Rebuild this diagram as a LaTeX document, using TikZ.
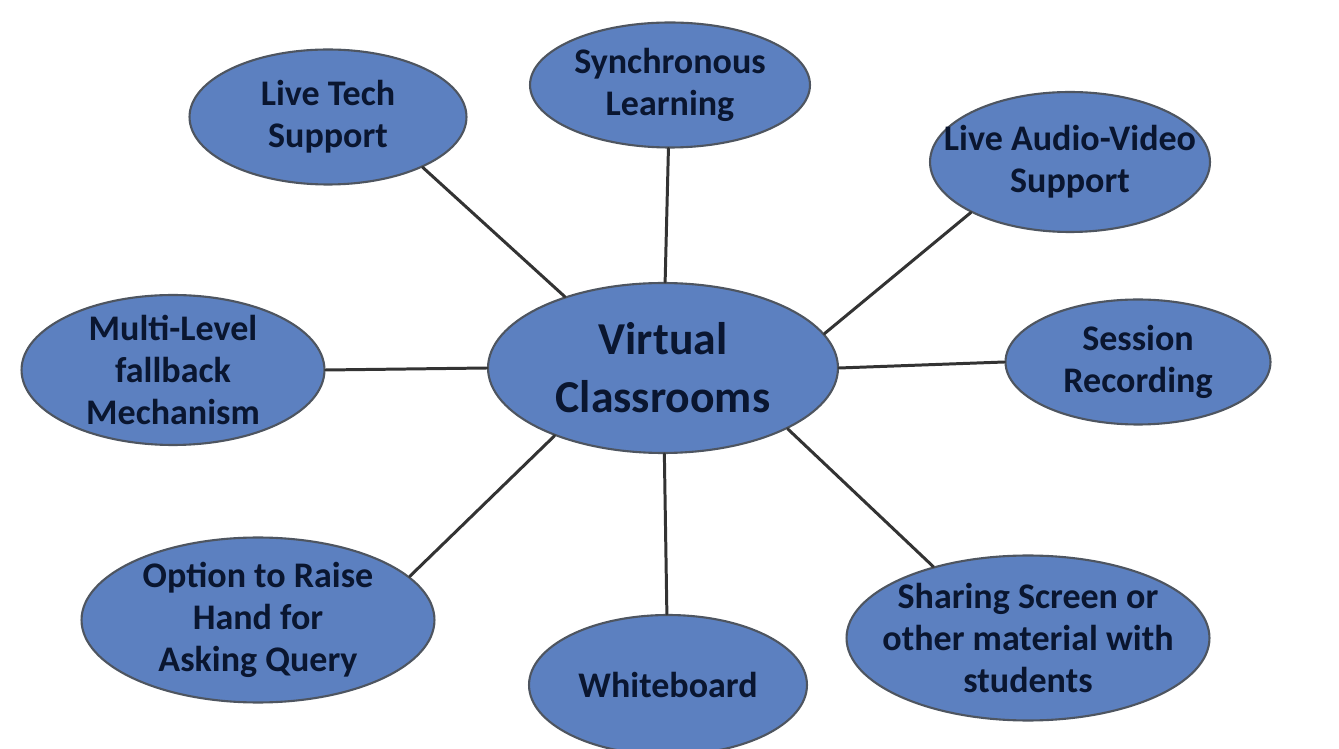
\documentclass[tikz,border=0pt]{standalone}
\usepackage{fontspec}
\setmainfont{Carlito}
\usetikzlibrary{shapes.geometric}
\definecolor{bubble}{HTML}{5C80C0}
\definecolor{rim}{HTML}{4E5560}
\definecolor{ink}{HTML}{0A1630}
\begin{document}
\begin{tikzpicture}[x=0.02cm, y=-0.02cm, line join=round, line cap=round,
	topic/.style={ellipse, draw=rim, line width=1.2pt, fill=bubble, text=ink, inner sep=-30pt,
		align=center, font=\bfseries\fontsize{20.5}{24}\selectfont},
	hub/.style={topic, font=\bfseries\fontsize{26}{33}\selectfont},
	link/.style={draw=black!80, line width=1.7pt}]
	\useasboundingbox (0,0) rectangle (1339,749);
	\fill[white] (0,0) rectangle (1339,749);
	% hub and topics
	\node[hub, minimum width=7cm, minimum height=3.4cm] (vc) at (663,368) {Virtual\\Classrooms};
	\node[topic, minimum width=5.54cm, minimum height=2.7cm] (lts) at (328,117) {Live Tech\\Support};
	\node[topic, minimum width=5.6cm, minimum height=2.5cm] (sync) at (670,85) {Synchronous\\Learning};
	\node[topic, minimum width=5.6cm, minimum height=2.8cm] (av) at (1070,162) {Live Audio-Video\\Support};
	\node[topic, minimum width=5.3cm, minimum height=2.5cm] (sess) at (1138,362) {Session\\Recording};
	\node[topic, minimum width=6.06cm, minimum height=3cm] (multi) at (173,370) {Multi-Level\\fallback\\Mechanism};
	\node[topic, minimum width=7.06cm, minimum height=3.3cm] (raise) at (258,620) {Option to Raise\\Hand for\\Asking Query};
	\node[topic, minimum width=5.56cm, minimum height=2.8cm] (wb) at (668,685) {Whiteboard};
	\node[topic, minimum width=7.26cm, minimum height=3.3cm] (share) at (1028,638) {Sharing Screen or\\other material with\\students};
	% spokes
	\draw[link] (lts.-28) -- (vc.144);
	\draw[link] (sync) -- (vc);
	\draw[link] (av.207) -- (vc.12);
	\draw[link] (sess.west) -- (vc.east);
	\draw[link] (multi.east) -- (vc.west);
	\draw[link] (raise.16) -- (vc.212);
	\draw[link] (wb) -- (vc);
	\draw[link] (share.143) -- (vc.-26);
\end{tikzpicture}
\end{document}
